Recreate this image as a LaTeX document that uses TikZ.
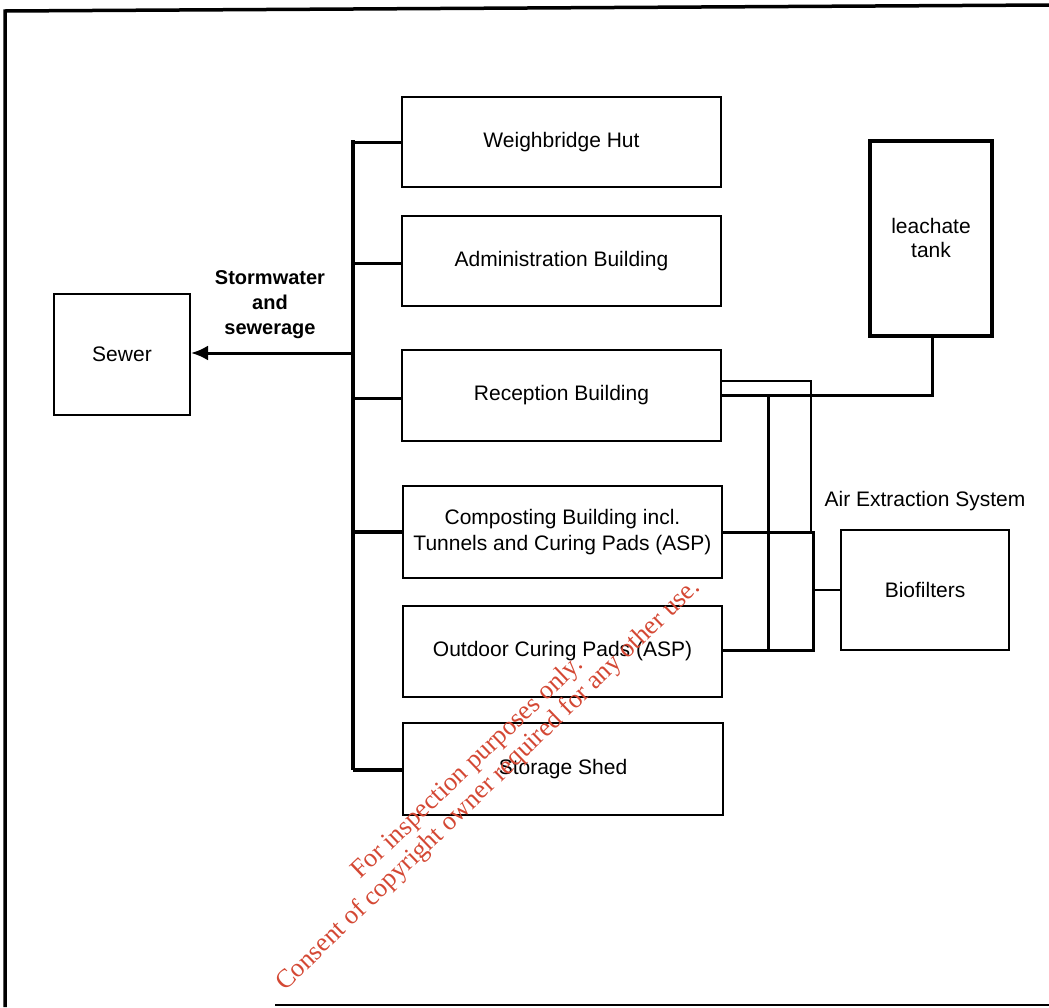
\documentclass[tikz,border=0pt]{standalone}
\usepackage{fontspec}
\setmainfont{Liberation Sans}
\newfontfamily\wmfont{Liberation Serif}
\usetikzlibrary{arrows.meta}
\definecolor{wmred}{RGB}{212,72,52}
\begin{document}
\begin{tikzpicture}[x=1pt,y=-1pt,
  bx/.style={draw,line width=2pt,inner sep=0pt,font=\fontsize{21}{26}\selectfont,align=center},
  bus/.style={line width=4pt},
  duct/.style={line width=3pt},
  thin/.style={line width=2pt},
  lbl/.style={font=\fontsize{21}{25}\selectfont,align=center},
  wm/.style={text=wmred,font=\wmfont\fontsize{26.3}{30}\selectfont,anchor=base,inner sep=0pt}]
\useasboundingbox (0,0) rectangle (1049,1007);
% frame
\draw[line width=3.5pt] (5,1007) -- (5,11) -- (1049,5);
\draw[line width=2pt] (275,1005) -- (1049,1005);
% boxes
\node[bx,minimum width=319pt,minimum height=90pt] (wb) at (561.5,142) {Weighbridge Hut};
\node[bx,minimum width=319pt,minimum height=90pt] (adm) at (561.5,261) {Administration Building};
\node[bx,minimum width=319pt,minimum height=91pt] (rec) at (561.5,395.5) {Reception Building};
\node[bx,minimum width=319pt,minimum height=92pt] (comp) at (562.5,532) {Composting Building incl.\\Tunnels and Curing Pads (ASP)};
\node[bx,minimum width=319pt,minimum height=91pt] (out) at (562.5,651) {Outdoor Curing Pads (ASP)};
\node[bx,minimum width=320pt,minimum height=92pt] (st) at (563,769) {Storage Shed};
\node[bx,minimum width=136pt,minimum height=121pt] (sew) at (122,354.5) {Sewer};
\node[bx,line width=4pt,minimum width=122pt,minimum height=195pt,font=\fontsize{21}{24}\selectfont] (tank) at (931,238) {leachate\\tank};
\node[bx,minimum width=168pt,minimum height=120pt] (bio) at (925,590) {Biofilters};
% labels
\node[lbl,font=\bfseries\fontsize{20}{25}\selectfont] (sw) at (270,305) {Stormwater\\and\\sewerage};
\node[lbl] (aes) at (925,501) {Air Extraction System};
% bus coordinates
\coordinate (b1) at (353,142);
\coordinate (b2) at (353,263);
\coordinate (b3) at (353,353);
\coordinate (b4) at (353,398);
\coordinate (b5) at (353,532);
\coordinate (b6) at (353,770);
\draw[bus] (353,140) -- (b6);
\draw[line width=3pt] (b1) -- (wb.west |- b1);
\draw[line width=3pt] (b2) -- (adm.west |- b2);
\draw[line width=3pt] (b4) -- (rec.west |- b4);
\draw[bus] (b5) -- (comp.west |- b5);
\draw[bus] (b6) -- (st.west |- b6);
\draw[line width=3pt,-{Latex[length=17pt,width=15pt]}] (b3) -- (sew.east |- b3);
% right side ducts
\coordinate (r1) at (811,381);
\coordinate (r2) at (813,532);
\coordinate (r3) at (813,650);
\coordinate (v1) at (768,395);
\coordinate (v2) at (768,650);
\coordinate (lk) at (932,395);
\coordinate (bf) at (813,590);
\draw[thin] (rec.east |- r1) -- (r1) -- (811,532);
\draw[duct] (rec.east |- lk) -- (lk) -- (tank.south -| lk);
\draw[duct] (v1) -- (v2);
\draw[duct] (comp.east |- r2) -- (r2) -- (r3) -- (out.east |- r3);
\draw[thin] (bf) -- (bio.west |- bf);
% watermark
\node[wm,rotate=43.7] (wm1) at (472,773) {For inspection purposes only.};
\node[wm,rotate=44.1] (wm2) at (493,790) {Consent of copyright owner required for any other use.};
\end{tikzpicture}
\end{document}
